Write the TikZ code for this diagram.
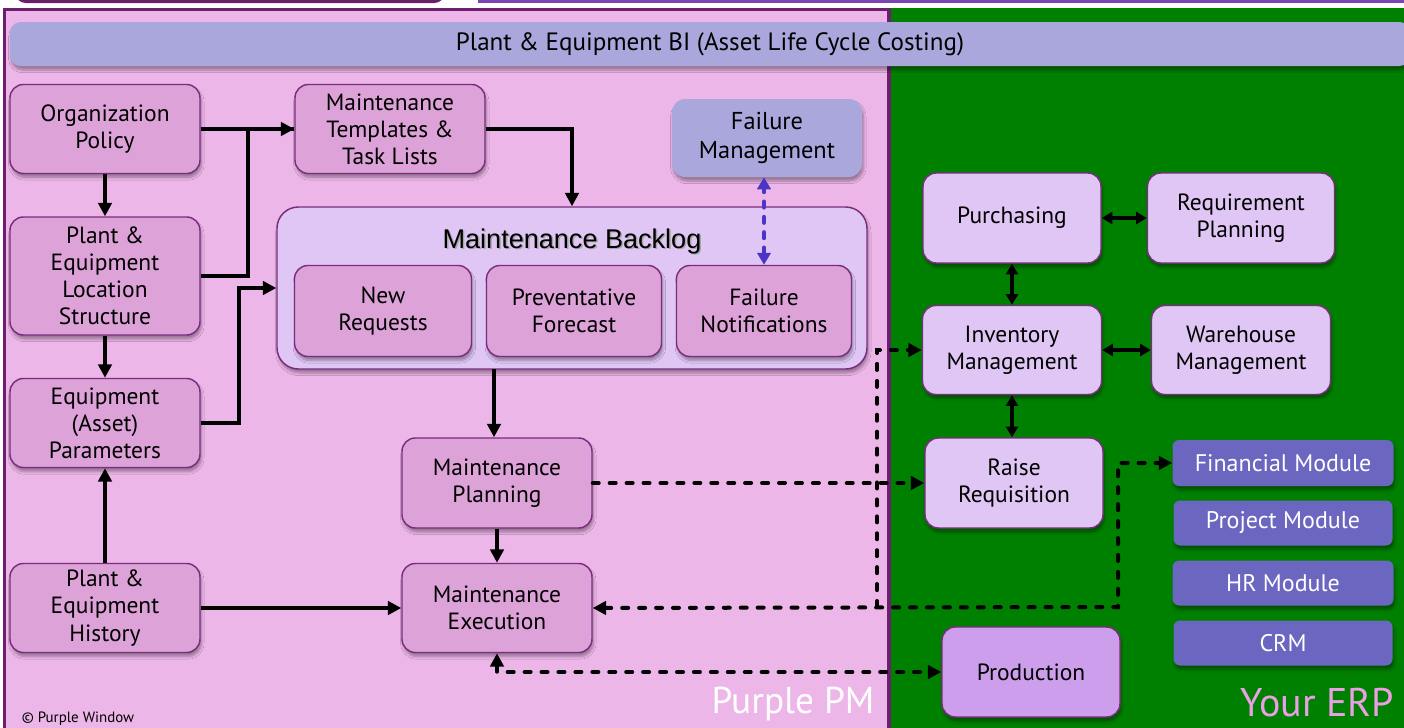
\documentclass[tikz,border=0pt]{standalone}
\usepackage{fontspec}
\setmainfont{PT Sans}
\newfontfamily\arialf{Liberation Sans}
\usetikzlibrary{arrows.meta,shadows.blur,calc}
\definecolor{pinkbg}{HTML}{EDB6E8}
\definecolor{panelline}{HTML}{6E1E6E}
\definecolor{boxfill}{HTML}{DDA2D8}
\definecolor{boxline}{HTML}{7A2C7E}
\definecolor{lav}{HTML}{E0C6F5}
\definecolor{prodfill}{HTML}{CC9EEC}
\definecolor{modfill}{HTML}{6B66C0}
\definecolor{bifill}{HTML}{AAA7DC}
\definecolor{erpgreen}{HTML}{008000}
\definecolor{bluedash}{HTML}{4B35C6}
\definecolor{erptext}{HTML}{EBA0E6}
\definecolor{topdark}{HTML}{6B1F6B}
\definecolor{topline}{HTML}{7B45B5}
\begin{document}
\begin{tikzpicture}[x=0.75pt,y=-0.75pt,
  sz/.style 2 args={minimum width=#1*0.75pt, minimum height=#2*0.75pt},
  shad/.style={blur shadow={shadow blur steps=6, shadow xshift=1pt, shadow yshift=-3pt, shadow opacity=35}},
  pbox/.style={draw=boxline, line width=1.1pt, fill=boxfill, rounded corners=10pt, align=center, inner sep=1pt, shad, font=\fontsize{17.6}{20.3}\selectfont},
  lbox/.style={pbox, fill=lav},
  mod/.style={fill=modfill, rounded corners=5pt, text=white, align=center, inner sep=1pt, shad, font=\fontsize{18}{20}\selectfont},
  conn/.style={line width=3pt, draw=black, -{Triangle[length=10pt,width=10pt]}},
  plainln/.style={line width=3pt, draw=black},
  dbl/.style={line width=3pt, draw=black, {Triangle[length=8pt,width=9pt]}-{Triangle[length=8pt,width=9pt]}},
  dconn/.style={line width=3pt, draw=black, line cap=round, dash pattern=on 4.5pt off 8.2pt, -{Triangle[length=10pt,width=10pt]}},
  dconnb/.style={line width=3pt, draw=black, line cap=round, dash pattern=on 4.5pt off 8.2pt, {Triangle[length=10pt,width=10pt]}-{Triangle[length=10pt,width=10pt]}},
  bdash/.style={line width=3pt, draw=bluedash, line cap=round, dash pattern=on 4.5pt off 7pt, {Triangle[length=9pt,width=10pt]}-{Triangle[length=9pt,width=10pt]}}
]
\useasboundingbox (0,0) rectangle (1404,728);
% top strip
\fill[topdark, rounded corners=8pt] (15,-40) rectangle (445,3);
\fill[topline] (478,-10) rectangle (1404,2.5);
% panels
\fill[erpgreen] (889,8) rectangle (1410,735);
\draw[line width=2.4pt, draw=panelline, fill=pinkbg] (4.5,9.5) rectangle (889,740);
% banner
\node[fill=bifill, rounded corners=8pt, sz={1400}{44}, shad, font=\fontsize{18.8}{22}\selectfont] (bi) at (710,44) {Plant \& Equipment BI (Asset Life Cycle Costing)};
% left column
\node[pbox, sz={190}{89}] (org) at (105,129) {Organization\\Policy};
\node[pbox, sz={190}{118}] (loc) at (105,276) {Plant \&\\Equipment\\Location\\Structure};
\node[pbox, sz={190}{89}] (equip) at (105,423) {Equipment\\(Asset)\\Parameters};
\node[pbox, sz={190}{89}] (hist) at (105,608) {Plant \&\\Equipment\\History};
\node[pbox, sz={190}{89}] (tmpl) at (390,129) {Maintenance\\Templates \&\\Task Lists};
\node[fill=bifill, rounded corners=10pt, sz={190}{78}, align=center, shad, font=\fontsize{18.3}{22}\selectfont] (fmgmt) at (767,138) {Failure\\Management};
% backlog
\node[lbox, sz={590}{162}, rounded corners=16pt] (backlog) at (572,288) {};
\node[text=black!35, font=\arialf\fontsize{20.3}{24}\selectfont] at (573.5,242.5) {Maintenance Backlog};
\node[font=\arialf\fontsize{20.3}{24}\selectfont] (bltitle) at (572,241) {Maintenance Backlog};
\node[pbox, sz={177}{91}] (newreq) at (383,311) {New\\Requests};
\node[pbox, sz={175}{91}] (prev) at (574,311) {Preventative\\Forecast};
\node[pbox, sz={175}{91}] (fnot) at (764,311) {Failure\\Notifications};
\node[pbox, sz={190}{90}] (plan) at (497,483) {Maintenance\\Planning};
\node[pbox, sz={190}{89}] (exec) at (497,608) {Maintenance\\Execution};
% ERP side
\node[lbox, sz={178}{90}] (purch) at (1012,218) {Purchasing};
\node[lbox, sz={187}{90}] (reqp) at (1241,218) {Requirement\\Planning};
\node[lbox, sz={179}{89}] (inv) at (1012,350) {Inventory\\Management};
\node[lbox, sz={179}{89}] (wh) at (1241,350) {Warehouse\\Management};
\node[lbox, sz={178}{90}] (raise) at (1014,483) {Raise\\Requisition};
\node[pbox, fill=prodfill, sz={178}{90}] (prod) at (1031,672) {Production};
\node[mod, sz={221}{46}] (fin) at (1283,463) {Financial Module};
\node[mod, sz={219}{45}] (proj) at (1283,523) {Project Module};
\node[mod, sz={221}{45}] (hr) at (1283,583) {HR Module};
\node[mod, sz={219}{45}] (crm) at (1283,643) {CRM};
% labels
\node[text=white, font=\fontsize{28}{30}\selectfont] (ppm) at (793,704) {Purple PM};
\node[text=erptext, font=\fontsize{30}{32}\selectfont] (erp) at (1317,703) {Your ERP};
\node[font=\fontsize{11.2}{13}\selectfont] (copy) at (78,719) {© Purple Window};
% connectors
\draw[conn] (org.east) -- (tmpl.west);
\draw[plainln] (loc.east) -- ++(47,0) |- (tmpl.west);
\draw[conn] (org.south) -- (loc.north);
\draw[conn] (loc.south) -- (equip.north);
\draw[conn] (hist.north) -- (equip.south);
\draw[conn] (equip.east) -- ++(38,0) |- (backlog.west);
\draw[conn] (tmpl.east) -| (backlog.north);
\draw[bdash] (fnot.north) -- (fnot.north |- fmgmt.south);
\coordinate (bls) at (494,369);
\draw[conn] (bls) -- (bls |- plan.north);
\draw[conn] (plan.south) -- (exec.north);
\draw[conn] (hist.east) -- (exec.west);
\draw[dconn] (plan.east) -- (raise.west);
\coordinate (j1) at (877,607);
\coordinate (j2) at (1118,607);
\draw[dconnb] (exec.east) -- (j2) |- (fin.west);
\draw[dconn] (j1) |- (inv.west);
\draw[dconnb] (exec.south) |- (prod.west);
\draw[dbl] (purch.east) -- (reqp.west);
\draw[dbl] (purch.south) -- (inv.north);
\draw[dbl] (inv.east) -- (wh.west);
\draw[dbl] (inv.south) -- (inv.south |- raise.north);
\end{tikzpicture}
\end{document}
